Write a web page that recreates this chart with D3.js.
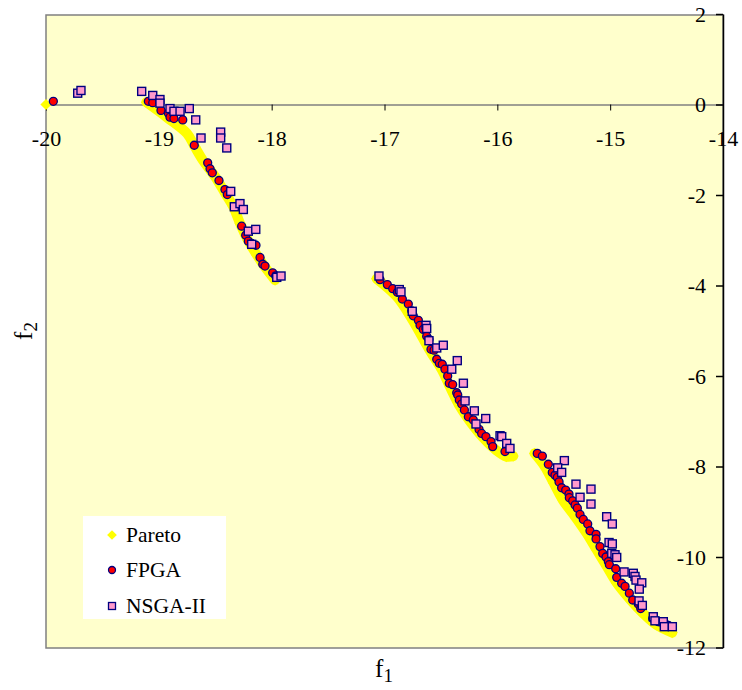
<!DOCTYPE html>
<html>
<head>
<meta charset="utf-8">
<script src="https://cdn.jsdelivr.net/npm/d3@7"></script>
<style>
  body { margin:0; background:#fff; }
  text { font-family: "Liberation Serif", "Times New Roman", serif; fill:#000; }
</style>
</head>
<body>
<svg id="drawing_region"></svg>
<script>
// ---- data ----
const xTicks = [-20, -19, -18, -17, -16, -15, -14];
const yTicks = [2, 0, -2, -4, -6, -8, -10, -12];

const paretoPoint = [[-20.0, 0.0]];
const paretoSeg1 = [[-19.11,0.05],[-18.93,-0.28],[-18.75,-0.64],[-18.68,-0.94],[-18.61,-1.23],[-18.50,-1.60],
  [-18.41,-1.97],[-18.34,-2.26],[-18.28,-2.63],[-18.21,-3.00],[-18.13,-3.33],[-18.06,-3.59],[-17.97,-3.88]];
const paretoSeg2 = [[-17.07,-3.85],[-16.89,-4.25],[-16.75,-4.77],[-16.60,-5.43],[-16.49,-5.87],[-16.42,-6.24],
  [-16.33,-6.68],[-16.24,-7.01],[-16.12,-7.38],[-16.01,-7.64],[-15.92,-7.78],[-15.86,-7.77]];
const paretoSeg3 = [[-15.67,-7.71],[-15.58,-8.00],[-15.50,-8.37],[-15.42,-8.74],[-15.31,-9.11],[-15.21,-9.47],
  [-15.12,-9.84],[-15.03,-10.21],[-14.94,-10.58],[-14.82,-10.95],[-14.71,-11.24],[-14.59,-11.50],[-14.45,-11.67]];

const fpga = [[-19.935,0.07],[-19.093,0.07],[-19.054,0.04],[-18.981,-0.13],[-18.916,-0.19],[-18.901,-0.28],
  [-18.866,-0.31],[-18.788,-0.34],[-18.686,-0.90],[-18.567,-1.29],[-18.546,-1.42],[-18.526,-1.51],[-18.467,-1.68],
  [-18.414,-1.88],[-18.393,-1.99],[-18.266,-2.69],[-18.230,-2.89],[-18.207,-3.02],[-18.177,-3.07],[-18.139,-3.11],
  [-18.103,-3.38],[-18.079,-3.53],[-18.059,-3.57],[-17.991,-3.72],[-17.964,-3.79],
  [-17.040,-3.87],[-16.975,-3.98],[-16.927,-4.07],[-16.886,-4.15],[-16.842,-4.30],[-16.789,-4.41],[-16.759,-4.56],
  [-16.745,-4.67],[-16.700,-4.77],[-16.685,-4.88],[-16.656,-4.97],[-16.626,-5.12],[-16.606,-5.19],[-16.588,-5.41],
  [-16.561,-5.43],[-16.537,-5.63],[-16.514,-5.72],[-16.488,-5.74],[-16.464,-5.85],[-16.440,-6.00],[-16.426,-6.16],
  [-16.396,-6.19],[-16.360,-6.37],[-16.351,-6.42],[-16.337,-6.53],[-16.316,-6.62],[-16.292,-6.75],[-16.257,-6.90],
  [-16.213,-6.97],[-16.162,-7.18],[-16.139,-7.27],[-16.101,-7.34],[-16.056,-7.45],[-16.041,-7.56],[-15.932,-7.67],
  [-15.646,-7.71],[-15.601,-7.77],[-15.548,-7.95],[-15.513,-8.13],[-15.489,-8.19],[-15.468,-8.24],[-15.453,-8.34],
  [-15.430,-8.47],[-15.394,-8.52],[-15.365,-8.61],[-15.362,-8.69],[-15.332,-8.76],[-15.311,-8.85],[-15.291,-8.92],
  [-15.267,-9.06],[-15.238,-9.17],[-15.199,-9.27],[-15.179,-9.42],[-15.125,-9.50],[-15.125,-9.60],[-15.090,-9.77],
  [-15.066,-9.92],[-15.037,-10.00],[-15.016,-10.10],[-15.007,-10.17],[-14.951,-10.26],[-14.942,-10.45],[-14.898,-10.58],
  [-14.868,-10.65],[-14.830,-10.80],[-14.800,-10.95],[-14.751,-11.04],[-14.729,-11.14],[-14.623,-11.36],[-14.573,-11.43],
  [-14.523,-11.44],[-14.485,-11.51]];

const nsga = [[-19.719,0.25],[-19.690,0.31],[-19.152,0.29],[-19.054,0.20],[-18.990,0.11],[-18.990,0.03],[-18.901,-0.09],
  [-18.866,-0.15],[-18.812,-0.15],[-18.730,-0.09],[-18.673,-0.34],[-18.626,-0.74],[-18.452,-0.61],[-18.452,-0.74],
  [-18.398,-0.96],[-18.363,-1.92],[-18.331,-2.26],[-18.281,-2.19],[-18.251,-2.32],[-18.207,-2.80],[-18.141,-2.76],
  [-18.177,-3.09],[-17.955,-3.82],[-17.917,-3.79],
  [-17.049,-3.79],[-16.869,-4.09],[-16.854,-4.14],[-16.754,-4.57],[-16.632,-4.88],[-16.626,-4.95],[-16.606,-5.22],
  [-16.537,-5.38],[-16.479,-5.32],[-16.355,-5.66],[-16.404,-5.85],[-16.301,-6.16],[-16.286,-6.55],[-16.204,-6.77],
  [-16.103,-6.94],[-16.189,-7.06],[-15.976,-7.32],[-15.961,-7.34],[-15.917,-7.49],[-15.888,-7.60],
  [-15.406,-7.87],[-15.465,-8.03],[-15.430,-8.13],[-15.303,-8.39],[-15.170,-8.50],[-15.267,-8.68],[-15.170,-8.83],
  [-15.031,-9.11],[-14.981,-9.27],[-15.010,-9.68],[-14.981,-9.71],[-14.986,-9.92],[-14.957,-9.95],[-14.942,-10.01],
  [-14.877,-10.33],[-14.795,-10.36],[-14.780,-10.43],[-14.771,-10.51],[-14.720,-10.57],[-14.742,-10.71],[-14.744,-10.97],
  [-14.715,-11.07],[-14.618,-11.32],[-14.603,-11.41],[-14.529,-11.43],[-14.520,-11.54],[-14.449,-11.54]];

const legendLabels = ['Pareto', 'FPGA', 'NSGA-II'];

// ---- drawing ----
const W = 742, H = 690;
const plot = {left:46, right:723, top:15, bottom:648};
const fmt = d => String(d);   // plain hyphen minus, no decimals

const svg = d3.select('#drawing_region').attr('width', W).attr('height', H);

const xscale = d3.scaleLinear().domain([-20, -14]).range([plot.left, plot.right]);
const yscale = d3.scaleLinear().domain([-12, 2]).range([647.5, 14]);

// plot background + frame
svg.append('rect')
  .attr('x', plot.left).attr('y', plot.top)
  .attr('width', plot.right - plot.left).attr('height', plot.bottom - plot.top)
  .attr('fill', '#FFFFCC').attr('stroke', '#808080').attr('stroke-width', 1.5);

// x axis on y = 0
const xaxis = d3.axisBottom(xscale).tickValues(xTicks).tickFormat(fmt).tickSize(6).tickSizeOuter(0).tickPadding(20);
const xg = svg.append('g').attr('transform', `translate(0,${yscale(0)})`).call(xaxis);
xg.select('.domain').attr('stroke', '#808080').attr('stroke-width', 1.5);
xg.selectAll('.tick line').attr('stroke', '#000');
xg.selectAll('.tick text').style('font-family', '"Liberation Serif", serif').style('font-size', '22px').attr('fill', '#000');

// y axis on x = -14
const yaxis = d3.axisLeft(yscale).tickValues(yTicks).tickFormat(fmt).tickSize(7).tickSizeOuter(0).tickPadding(10);
const yg = svg.append('g').attr('transform', `translate(${xscale(-14)},0)`).call(yaxis);
yg.select('.domain').attr('stroke', '#000').attr('stroke-width', 1.5);
yg.selectAll('.tick line').attr('stroke', '#000').attr('stroke-width', 1.5);
yg.selectAll('.tick text').style('font-family', '"Liberation Serif", serif').style('font-size', '22px').attr('fill', '#000');

// Pareto band
const line = d3.line().x(d => xscale(d[0])).y(d => yscale(d[1])).curve(d3.curveCatmullRom);
[paretoSeg1, paretoSeg2, paretoSeg3].forEach(seg => {
  svg.append('path').attr('d', line(seg))
    .attr('fill', 'none').attr('stroke', '#FFFF00').attr('stroke-width', 10)
    .attr('stroke-linecap', 'round').attr('stroke-linejoin', 'round');
});
const diamond = d3.symbol().type(d3.symbolDiamond2).size(80);
svg.append('g').selectAll('path')
  .data(paretoPoint.concat(paretoSeg1, paretoSeg2, paretoSeg3))
  .join('path')
  .attr('d', diamond)
  .attr('transform', d => `translate(${xscale(d[0])},${yscale(d[1])})`)
  .attr('fill', '#FFFF00');

// FPGA circles
svg.append('g').selectAll('circle')
  .data(fpga)
  .join('circle')
  .attr('cx', d => xscale(d[0]))
  .attr('cy', d => yscale(d[1]))
  .attr('r', 4)
  .attr('fill', '#FF0000').attr('stroke', '#000080').attr('stroke-width', 1.3);

// NSGA-II squares
svg.append('g').selectAll('rect')
  .data(nsga)
  .join('rect')
  .attr('x', d => xscale(d[0]) - 4)
  .attr('y', d => yscale(d[1]) - 4)
  .attr('width', 8).attr('height', 8)
  .attr('fill', '#FF99CC').attr('stroke', '#000080').attr('stroke-width', 1.4);

// legend
const lg = svg.append('g');
lg.append('rect').attr('x', 83).attr('y', 516).attr('width', 143).attr('height', 103).attr('fill', '#fff');
const rows = [535, 570, 606];
lg.append('path').attr('d', d3.symbol().type(d3.symbolDiamond2).size(60)())
  .attr('transform', `translate(112,${rows[0]})`).attr('fill', '#FFFF00');
lg.append('circle').attr('cx', 112).attr('cy', rows[1]).attr('r', 3.5)
  .attr('fill', '#FF0000').attr('stroke', '#000080').attr('stroke-width', 1.3);
lg.append('rect').attr('x', 108.5).attr('y', rows[2] - 3.5).attr('width', 7).attr('height', 7)
  .attr('fill', '#FF99CC').attr('stroke', '#000080').attr('stroke-width', 1.3);
lg.selectAll('text.lab')
  .data(legendLabels)
  .join('text')
  .attr('class', 'lab')
  .attr('x', 126)
  .attr('y', (d, i) => rows[i] + 7)
  .style('font-size', '21.5px')
  .text(d => d);

// axis titles
const t1 = svg.append('text').attr('x', 384).attr('y', 677).attr('text-anchor', 'middle').style('font-size', '25px');
t1.append('tspan').text('f');
t1.append('tspan').attr('dy', 5).style('font-size', '19px').text('1');

const t2 = svg.append('text').attr('transform', 'translate(32,331) rotate(-90)').attr('text-anchor', 'middle').style('font-size', '25px');
t2.append('tspan').text('f');
t2.append('tspan').attr('dy', 5).style('font-size', '19px').text('2');
</script>
</body>
</html>
